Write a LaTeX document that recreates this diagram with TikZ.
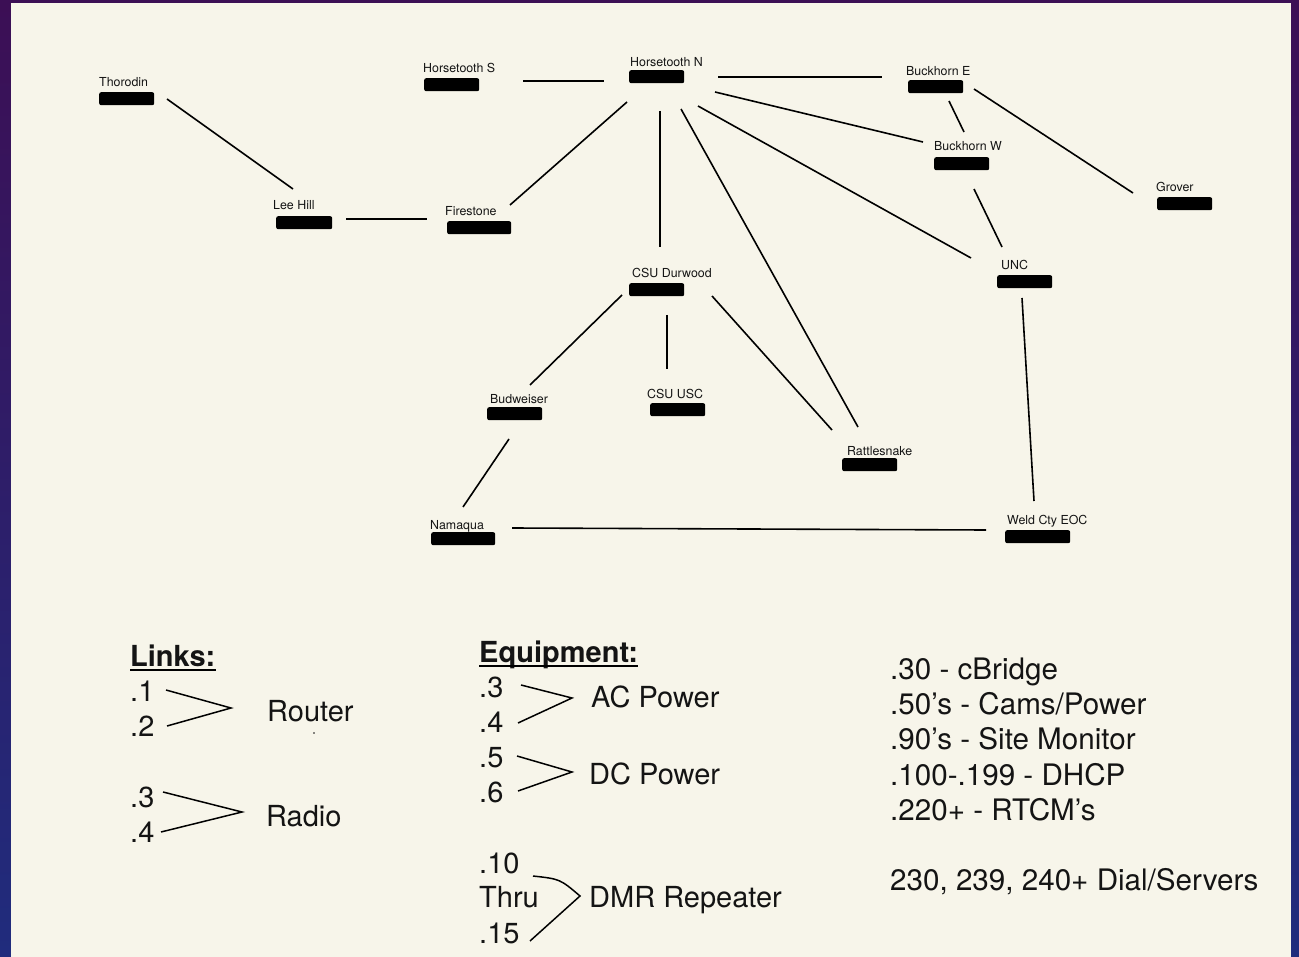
\documentclass[tikz,border=0pt]{standalone}
\usepackage{fontspec}
\setmainfont{TeX Gyre Heros}
\definecolor{cream}{RGB}{247,245,234}
\definecolor{bgtop}{RGB}{60,15,85}
\definecolor{bgbot}{RGB}{32,44,125}
\definecolor{ink}{RGB}{20,20,20}
\tikzset{
  site/.style={anchor=base west, inner sep=0pt, text=ink, font=\fontsize{12.4}{14}\selectfont},
  bar/.style={anchor=north west, fill=black, rounded corners=2pt, inner sep=0pt, minimum height=13pt, minimum width=55pt},
  link/.style={draw=black, line width=1.6pt},
  legend/.style={anchor=base west, inner sep=0pt, text=ink, font=\fontsize{29}{34}\selectfont},
  plan/.style={legend, font=\fontsize{29.6}{35}\selectfont},
  legendhead/.style={legend, font=\fontsize{29}{34}\selectfont\bfseries},
  brace/.style={draw=black, line width=1.5pt, line join=miter}
}
\begin{document}
\begin{tikzpicture}[x=1pt, y=-1pt]
\useasboundingbox (0,0) rectangle (1299,957);
\shade[top color=bgtop, bottom color=bgbot] (0,0) rectangle (1299,957);
\fill[cream] (11,3) rectangle (1291,957);

% ---- sites: labels and bars
\node[site] (thorodin) at (99,87) {Thorodin};
\node[bar] (thorodin-ip) at (99,92) {};
\node[site] (leehill) at (273,210) {Lee Hill};
\node[bar, minimum width=56pt] (leehill-ip) at (276,216) {};
\node[site] (firestone) at (445,216) {Firestone};
\node[bar, minimum width=64pt] (firestone-ip) at (447,221) {};
\node[site] (htS) at (423,73) {Horsetooth S};
\node[bar] (htS-ip) at (424,78) {};
\node[site] (htN) at (630,67) {Horsetooth N};
\node[bar] (htN-ip) at (629,70) {};
\node[site] (bhE) at (906,76) {Buckhorn E};
\node[bar] (bhE-ip) at (908,80) {};
\node[site] (bhW) at (934,151) {Buckhorn W};
\node[bar] (bhW-ip) at (934,157) {};
\node[site] (grover) at (1156,192) {Grover};
\node[bar] (grover-ip) at (1157,197) {};
\node[site] (unc) at (1001,270) {UNC};
\node[bar] (unc-ip) at (997,275) {};
\node[site] (durwood) at (632,278) {CSU Durwood};
\node[bar] (durwood-ip) at (629,283) {};
\node[site] (budweiser) at (490,404) {Budweiser};
\node[bar] (budweiser-ip) at (487,407) {};
\node[site] (usc) at (647,399) {CSU USC};
\node[bar] (usc-ip) at (650,403) {};
\node[site] (rattle) at (847,456) {Rattlesnake};
\node[bar] (rattle-ip) at (842,458) {};
\node[site] (namaqua) at (430,529) {Namaqua};
\node[bar, minimum width=64pt] (namaqua-ip) at (431,532) {};
\node[site] (weld) at (1007,524) {Weld Cty EOC};
\node[bar, minimum width=65pt] (weld-ip) at (1005,530) {};

% ---- connector end points
\coordinate (thorodin-a) at (167,99);   \coordinate (leehill-a) at (293,189);
\coordinate (leehill-b) at (346,219);   \coordinate (firestone-a) at (427,219);
\coordinate (firestone-b) at (510,205); \coordinate (htN-a) at (627,102);
\coordinate (htS-a) at (523,81);        \coordinate (htN-b) at (604,81);
\coordinate (htN-c) at (718,77);        \coordinate (bhE-a) at (882,77);
\coordinate (htN-d) at (715,92);        \coordinate (bhW-a) at (923,142);
\coordinate (htN-e) at (698,106);       \coordinate (unc-a) at (971,258);
\coordinate (htN-f) at (681,109);       \coordinate (rattle-a) at (858,427);
\coordinate (htN-g) at (660,111);       \coordinate (durwood-a) at (660,247);
\coordinate (bhE-b) at (949,101);       \coordinate (bhW-b) at (964,132);
\coordinate (bhE-c) at (974,89);        \coordinate (grover-a) at (1133,193);
\coordinate (bhW-c) at (974,189);       \coordinate (unc-b) at (1002,247);
\coordinate (unc-c) at (1022,298);      \coordinate (weld-a) at (1034,501);
\coordinate (durwood-b) at (622,295);   \coordinate (budweiser-a) at (530,385);
\coordinate (durwood-c) at (667,315);   \coordinate (usc-a) at (667,369);
\coordinate (durwood-d) at (712,296);   \coordinate (rattle-b) at (832,430);
\coordinate (budweiser-b) at (509,439); \coordinate (namaqua-a) at (463,507);
\coordinate (namaqua-b) at (512,528);   \coordinate (weld-b) at (986,530);

% ---- connectors
\draw[link] (thorodin-a) -- (leehill-a);
\draw[link] (leehill-b) -- (firestone-a);
\draw[link] (firestone-b) -- (htN-a);
\draw[link] (htS-a) -- (htN-b);
\draw[link] (htN-c) -- (bhE-a);
\draw[link] (htN-d) -- (bhW-a);
\draw[link] (htN-e) -- (unc-a);
\draw[link] (htN-f) -- (rattle-a);
\draw[link] (htN-g) -- (durwood-a);
\draw[link] (bhE-b) -- (bhW-b);
\draw[link] (bhE-c) -- (grover-a);
\draw[link] (bhW-c) -- (unc-b);
\draw[link] (unc-c) -- (weld-a);
\draw[link] (durwood-b) -- (budweiser-a);
\draw[link] (durwood-c) -- (usc-a);
\draw[link] (durwood-d) -- (rattle-b);
\draw[link] (budweiser-b) -- (namaqua-a);
\draw[link] (namaqua-b) -- (weld-b);

% ---- legend: Links
\node[legendhead] (links) at (130,666) {Links:};
\draw[line width=1.6pt] ([yshift=-4pt]links.base west) -- ([yshift=-4pt]links.base east);
\node[legend] (l1) at (130,701) {.1};
\node[legend] (l2) at (130,736) {.2};
\node[legend] (router) at (267,721) {Router};
\fill[ink] (314,733) circle (0.8);
\draw[brace] (166,690) -- (231,708) -- (167,726);
\node[legend] (l3) at (130,807) {.3};
\node[legend] (l4) at (130,842) {.4};
\node[legend] (radio) at (266,826) {Radio};
\draw[brace] (163,792) -- (242,812) -- (161,832);

% ---- legend: Equipment
\node[legendhead] (equip) at (479,662) {Equipment:};
\draw[line width=1.6pt] ([yshift=-4pt]equip.base west) -- ([yshift=-4pt]equip.base east);
\node[legend] (e3) at (479,697) {.3};
\node[legend] (e4) at (479,732) {.4};
\node[legend] (acp) at (591,707) {AC Power};
\draw[brace] (521,685) -- (572,698) -- (518,723);
\node[legend] (e5) at (479,767) {.5};
\node[legend] (e6) at (479,802) {.6};
\node[legend] (dcp) at (589,784) {DC Power};
\draw[brace] (517,756) -- (572,772) -- (518,791);
\node[legend] (e10) at (479,873) {.10};
\node[legend] (thru) at (479,907) {Thru};
\node[legend] (e15) at (479,943) {.15};
\node[legend] (dmr) at (589,907) {DMR Repeater};
\draw[brace] (533,876) .. controls (560,879) .. (580,896) -- (530,941);

% ---- legend: address plan
\node[plan] (a30) at (890,679) {.30 - cBridge};
\node[plan] (a50) at (890,714) {.50’s - Cams/Power};
\node[plan] (a90) at (890,749) {.90’s - Site Monitor};
\node[plan] (a100) at (890,785) {.100-.199 - DHCP};
\node[plan] (a220) at (890,820) {.220+ - RTCM’s};
\node[plan] (a230) at (890,890) {230, 239, 240+ Dial/Servers};
\end{tikzpicture}
\end{document}
